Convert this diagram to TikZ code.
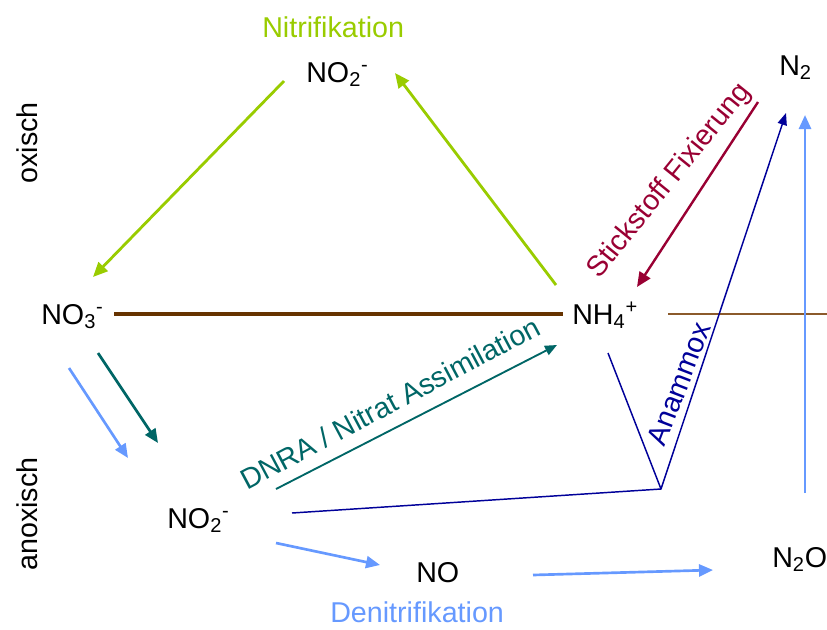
\documentclass[tikz,border=0pt]{standalone}
\usepackage{fontspec}
\setmainfont{Liberation Sans}
\usetikzlibrary{arrows.meta}
\definecolor{nitgreen}{HTML}{99CC00}
\definecolor{fixred}{HTML}{990033}
\definecolor{dnrateal}{HTML}{006666}
\definecolor{denblue}{HTML}{6699FF}
\definecolor{amxblue}{HTML}{000099}
\definecolor{soilbrown}{HTML}{663300}
\definecolor{soilbrownlight}{HTML}{8B5A2B}

\begin{document}
\begin{tikzpicture}[
    x=0.75pt, y=-0.75pt,
    every node/.style={font=\fontsize{21.5}{25}\selectfont, inner sep=0pt},
    species/.style={anchor=base west},
    process/.style={anchor=base west},
    zone/.style={rotate=90},
    bigtip/.style={-{Triangle[length=11pt, width=9.5pt]}},
    midtip/.style={-{Triangle[length=10.5pt, width=9pt]}},
    smalltip/.style={-{Triangle[length=9pt, width=7pt]}},
    nitri/.style={bigtip, nitgreen, line width=2.1pt},
    fix/.style={bigtip, fixred, line width=1.8pt},
    denitri/.style={midtip, denblue, line width=2pt},
    dnra/.style={midtip, dnrateal, line width=2pt},
    anammox/.style={smalltip, amxblue, line width=1.1pt}
  ]
    \useasboundingbox (0,0) rectangle (827,629);

    % species
    \node[species] (no2top) at (306,82) {NO\textsubscript{2}\textsuperscript{-}};
    \node[species] (no3) at (41,324) {NO\textsubscript{3}\textsuperscript{-}};
    \node[species] (nh4) at (572,324) {NH\textsubscript{4}\textsuperscript{+}};
    \node[species] (n2) at (779,75) {N\textsubscript{2}};
    \node[species] (no2bot) at (167,528) {NO\textsubscript{2}\textsuperscript{-}};
    \node[species] (no) at (416,582) {NO};
    \node[species] (n2o) at (772,567) {N\textsubscript{2}O};

    % process and zone labels
    \node[process, text=nitgreen] (nitrilabel) at (262,37) {Nitrifikation};
    \node[process, text=denblue] (denitrilabel) at (330,622) {Denitrifikation};
    \node[zone] (oxisch) at (27,143) {oxisch};
    \node[zone] (anoxisch) at (27,514) {anoxisch};
    \node[rotate=51, text=fixred] (fixlabel) at (670,181) {Stickstoff Fixierung};
    \node[rotate=28, text=dnrateal] (dnralabel) at (390,403) {DNRA / Nitrat Assimilation};
    \node[rotate=69, text=amxblue] (amxlabel) at (679,384) {Anammox};

    % arrow ends
    \coordinate (nitA) at (284,81);
    \coordinate (nitB) at (93,277);
    \coordinate (nitC) at (556,285);
    \coordinate (nitD) at (395,73);
    \coordinate (fixA) at (758,102);
    \coordinate (fixB) at (637,287);
    \coordinate (amxA) at (292,513);
    \coordinate (amxB) at (608,353);
    \coordinate (amxJ) at (661,489);
    \coordinate (amxC) at (786,113);
    \coordinate (denA) at (69,368);
    \coordinate (denB) at (128,458);
    \coordinate (denC) at (276,543);
    \coordinate (denD) at (380,565);
    \coordinate (denE) at (533,575);
    \coordinate (denF) at (713,570);
    \coordinate (denG) at (805,493);
    \coordinate (denH) at (805,115);
    \coordinate (dnraA) at (98,353);
    \coordinate (dnraB) at (158,443);
    \coordinate (dnraC) at (276,489);
    \coordinate (dnraD) at (557,345);
    \coordinate (redoxA) at (114,314);
    \coordinate (redoxB) at (563,314);
    \coordinate (redoxC) at (668,314);
    \coordinate (redoxD) at (827,314);

    % redox border
    \draw[soilbrown, line width=2.4pt] (redoxA) -- (redoxB);
    \draw[soilbrownlight, line width=1.1pt] (redoxC) -- (redoxD);

    \draw[nitri] (nitA) -- (nitB);
    \draw[nitri] (nitC) -- (nitD);
    \draw[fix] (fixA) -- (fixB);
    \draw[anammox, -] (amxB) -- (amxJ);
    \draw[anammox] (amxA) -- (amxJ) -- (amxC);
    \draw[denitri] (denA) -- (denB);
    \draw[denitri] (denC) -- (denD);
    \draw[denitri] (denE) -- (denF);
    \draw[denitri] (denG) -- (denH);
    \draw[dnra] (dnraA) -- (dnraB);
    \draw[dnra, line width=1.4pt, -{Triangle[length=9pt, width=7.5pt]}] (dnraC) -- (dnraD);
  \end{tikzpicture}
\end{document}
